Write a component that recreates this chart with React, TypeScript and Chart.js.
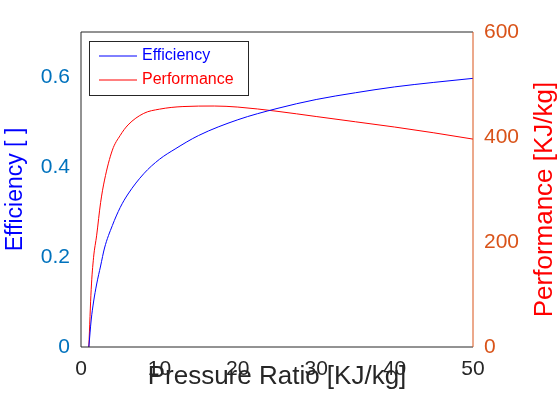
import React, { useEffect, useRef } from "react";
import { Chart, registerables } from "chart.js";
Chart.register(...registerables);

const effX = [1, 1.3, 1.6, 2, 2.5, 3, 4, 5, 6, 8, 10, 12, 15, 20, 25, 30, 35, 40, 45, 50];
const effY = [0, 0.06, 0.10, 0.14, 0.18, 0.22, 0.27, 0.31, 0.34, 0.385, 0.417, 0.44, 0.47, 0.505, 0.53, 0.55, 0.565, 0.578, 0.588, 0.597];
const perfX = [1, 1.3, 1.6, 2, 2.5, 3, 4, 5, 6, 8, 10, 13, 17, 20, 25, 30, 35, 40, 45, 50];
const perfY = [0, 110, 170, 213, 275, 318, 375, 403, 423, 445, 453, 458, 459, 457, 449, 439, 429, 419, 408, 396];
const effTicks = [0, 0.2, 0.4, 0.6];

const toPts = (xs: number[], ys: number[]) => xs.map((x, i) => ({ x, y: ys[i] }));
const FONT = "'Liberation Sans', Arial, sans-serif";

export default function App() {
  const ref = useRef<HTMLCanvasElement>(null);
  useEffect(() => {
    document.body.style.margin = "0";
    const boxPlugin = {
      id: "box",
      afterDraw(c: any) {
        const { ctx, chartArea: a } = c;
        ctx.save();
        ctx.lineWidth = 1;
        ctx.strokeStyle = "#262626";
        ctx.beginPath();
        ctx.moveTo(a.left, a.bottom); ctx.lineTo(a.left, a.top); ctx.lineTo(a.right, a.top);
        ctx.stroke();
        ctx.beginPath(); ctx.moveTo(a.left, a.bottom); ctx.lineTo(a.right, a.bottom); ctx.stroke();
        ctx.strokeStyle = "#D95319";
        ctx.beginPath(); ctx.moveTo(a.right, a.top); ctx.lineTo(a.right, a.bottom); ctx.stroke();
        // right axis title, reading bottom to top
        ctx.save();
        ctx.translate(545, (a.top + a.bottom) / 2 + 10);
        ctx.rotate(-Math.PI / 2);
        ctx.fillStyle = "red"; ctx.font = `26px ${FONT}`;
        ctx.textAlign = "center"; ctx.textBaseline = "middle";
        ctx.fillText("Performance [KJ/kg]", 0, 0);
        ctx.restore();
        // legend
        const lx = a.left + 8, ly = a.top + 9, w = 159, h = 54;
        ctx.fillStyle = "#fff"; ctx.fillRect(lx, ly, w, h);
        ctx.strokeStyle = "#262626"; ctx.strokeRect(lx + 0.5, ly + 0.5, w, h);
        ctx.font = `16px ${FONT}`; ctx.textBaseline = "middle";
        const items = [["Efficiency", "blue"], ["Performance", "red"]];
        items.forEach(([t, col], i) => {
          const yy = ly + 15 + i * 24;
          ctx.strokeStyle = col; ctx.beginPath(); ctx.moveTo(lx + 10, yy); ctx.lineTo(lx + 48, yy); ctx.stroke();
          ctx.fillStyle = col; ctx.fillText(t, lx + 53, yy);
        });
        ctx.restore();
      },
    };
    const chart = new Chart(ref.current!, {
      type: "line",
      data: {
        datasets: [
          { label: "Efficiency", data: toPts(effX, effY), borderColor: "blue", borderWidth: 1, pointRadius: 0, cubicInterpolationMode: "monotone", yAxisID: "y" },
          { label: "Performance", data: toPts(perfX, perfY), borderColor: "red", borderWidth: 1, pointRadius: 0, cubicInterpolationMode: "monotone", yAxisID: "y1" },
        ],
      },
      options: {
        animation: false, responsive: false,
        layout: { padding: { top: 32, bottom: 28 } },
        plugins: { legend: { display: false }, tooltip: { enabled: false } },
        scales: {
          x: {
            type: "linear", min: 0, max: 50,
            ticks: { stepSize: 10, color: "#262626", font: { size: 21, family: FONT }, padding: 2 },
            grid: { display: false }, border: { display: false },
            title: { display: true, text: "Pressure Ratio [KJ/kg]", color: "#262626", font: { size: 26, family: FONT }, padding: 0 },
            afterFit: (s: any) => { s.height = 45; },
          },
          y: {
            position: "left", min: 0, max: 0.7,
            afterBuildTicks: (s: any) => { s.ticks = effTicks.map((v) => ({ value: v })); },
            ticks: { color: "#0072BD", font: { size: 21, family: FONT }, callback: (v: any) => (v === 0 ? "0" : Number(v).toFixed(1)) },
            grid: { display: false }, border: { display: false },
            title: { display: true, text: "Efficiency [ ]", color: "blue", font: { size: 23, family: FONT }, padding: 2 },
            afterFit: (s: any) => { s.width = 81; },
          },
          y1: {
            position: "right", min: 0, max: 600,
            ticks: { stepSize: 200, color: "#D95319", font: { size: 21, family: FONT } },
            grid: { display: false }, border: { display: false },
            title: { display: false },
            afterFit: (s: any) => { s.width = 87; },
          },
        },
      } as any,
      plugins: [boxPlugin],
    });
    return () => chart.destroy();
  }, []);
  return <canvas ref={ref} width={560} height={420} />;
}
